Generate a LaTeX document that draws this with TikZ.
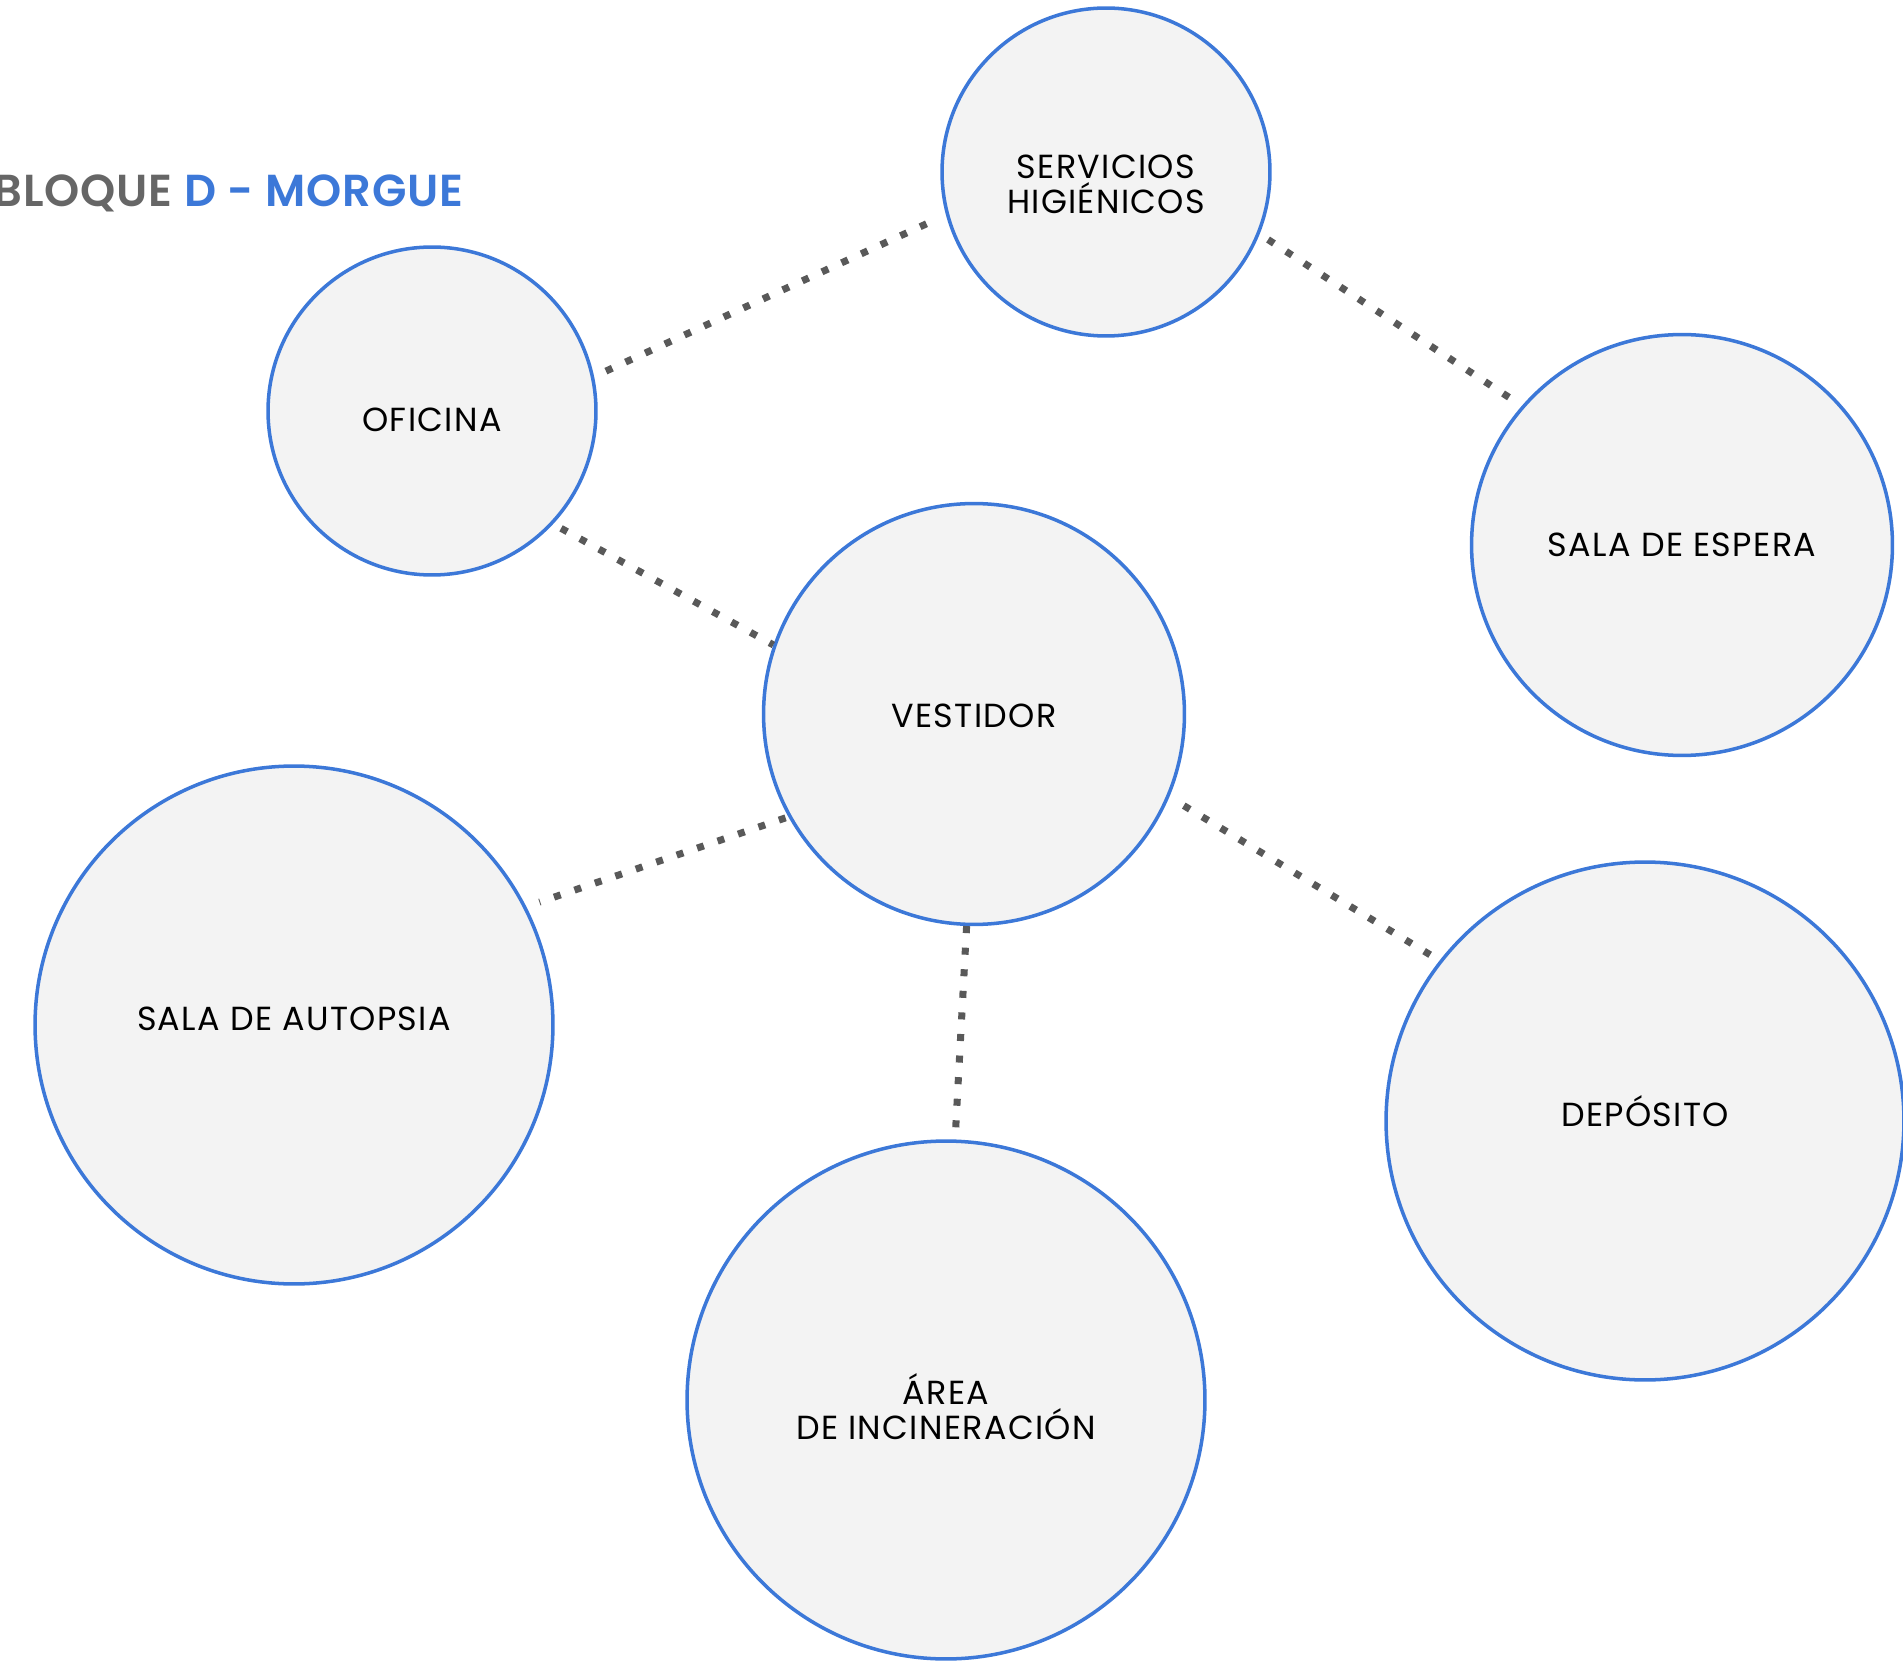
\documentclass[tikz,border=0pt]{standalone}
\usepackage{fontspec}
\setmainfont{Poppins}
\newfontfamily\roomfont[LetterSpace=4]{Poppins}
\newfontfamily\titlefont[LetterSpace=2]{Poppins SemiBold}
\usetikzlibrary{positioning}
\definecolor{roomblue}{HTML}{3C78D8}
\definecolor{roomfill}{HTML}{F3F3F3}
\definecolor{linkgray}{HTML}{595959}
\definecolor{titlegray}{HTML}{666666}
\tikzset{
	room/.style={circle, draw=roomblue, fill=roomfill, line width=2pt,
	  minimum size=#1, inner sep=0pt},
	roomtext/.style={align=center, inner sep=0pt, font=\fontsize{19}{20}\roomfont}
}
\tikzset{
	link/.style={draw=linkgray, line width=4pt, dash pattern=on 4pt off 8.3pt}
}

\begin{document}
\begin{tikzpicture}[x=0.02cm, y=-0.02cm]
      \useasboundingbox (0,0) rectangle (1903,1675);
      % title
      \node[anchor=base west, inner sep=0pt, font=\fontsize{25.5}{26}\titlefont]
        (title) at (-7,207) {\color{titlegray}BLOQUE \color{roomblue}D - MORGUE};
      % rooms, text set a bit off centre as in the plan
      \node[room=6.56cm, label={[roomtext, yshift=-6.8pt]center:{SERVICIOS\\HIGIÉNICOS}}]
        (ser) at (1106,172) {};
      \node[room=6.56cm, label={[roomtext, yshift=-4.8pt]center:OFICINA}]
        (ofi) at (432,411) {};
      \node[room=8.42cm, label={[roomtext]center:SALA DE ESPERA}]
        (esp) at (1682,545) {};
      \node[room=8.42cm, label={[roomtext, yshift=-1.2pt]center:VESTIDOR}]
        (ves) at (974,714) {};
      \node[room=10.36cm, label={[roomtext, yshift=3.4pt]center:SALA DE AUTOPSIA}]
        (aut) at (294,1025) {};
      \node[room=10.36cm, label={[roomtext, yshift=-4pt]center:{ÁREA\\DE INCINERACIÓN}}]
        (inc) at (946,1400) {};
      \node[room=10.36cm, label={[roomtext, yshift=5.6pt]center:DEPÓSITO}]
        (dep) at (1645,1121) {};
      % dotted links between rooms
      \foreach \a/\b/\s/\e in {ofi.12/ser.195/7.4/6.5, ser.-22/esp.139/5.7/6.5,
                               ofi.-43/ves.161/5.1/0, ves.209/aut.27/1.7/7.9,
                               ves.268/inc.88/0/0, ves.-23/dep.142/9.6/4.5} {
        \draw[link, shorten <=\s pt, shorten >=\e pt] (\a) -- (\b);
      }
    \end{tikzpicture}
\end{document}
